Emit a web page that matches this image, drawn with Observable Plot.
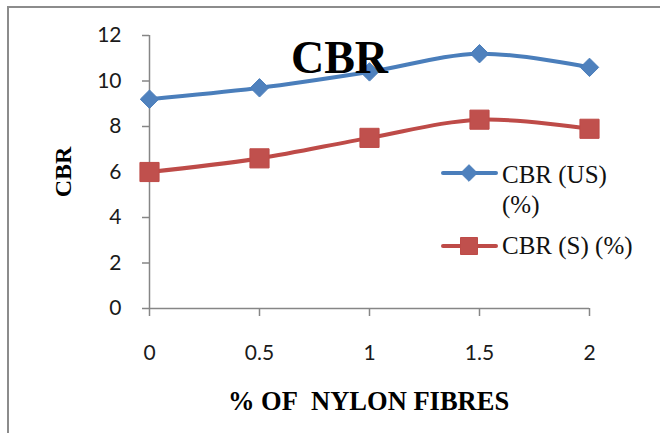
<!DOCTYPE html>
<html>
<head>
<meta charset="utf-8">
<script src="https://cdn.jsdelivr.net/npm/d3@7"></script>
<script src="https://cdn.jsdelivr.net/npm/@observablehq/plot@0.6"></script>
<style>
  body { margin: 0; background: #fff; }
  #chart { position: relative; width: 660px; height: 433px; overflow: hidden; background: #fff; }
  #chart svg.main { position: absolute; left: 0; top: 0; }
  #border { position: absolute; left: 7px; top: 6px; width: 720px; height: 520px; z-index: 2;
            border: 2px solid #8c8c8c; box-sizing: border-box; pointer-events: none; }
  #chart svg.legend-key { position: absolute; left: 440px; }
  #chart div.legend-text { position: absolute; left: 502px; font-size: 25px; line-height: 30px;
                           color: #111; white-space: nowrap; }
</style>
</head>
<body>
<div id="chart"><div id="border"></div></div>
<script>
// % of nylon fibres added to the soil
const fibre = [0, 0.5, 1, 1.5, 2];
// CBR values, unsoaked and soaked
const cbrUnsoaked = [9.2, 9.7, 10.4, 11.2, 10.6];
const cbrSoaked = [6.0, 6.6, 7.5, 8.3, 7.9];

const xTicks = [0, 0.5, 1, 1.5, 2];
const yTicks = [0, 2, 4, 6, 8, 10, 12];

const seriesNames = ["CBR (US)", "CBR (S)"];
const seriesLine = ["#4A7EBB", "#BE4B48"];
const seriesFill = ["#4F81BD", "#C0504D"];

const titleText = "CBR";
const yLabel = "CBR";
const xLabel = "% OF\u00a0 NYLON FIBRES";

const unsoaked = fibre.map((x, i) => ({x, y: cbrUnsoaked[i]}));
const soaked = fibre.map((x, i) => ({x, y: cbrSoaked[i]}));

const serif = "'Liberation Serif', 'Times New Roman', Times, serif";
const sans = "Lato, 'Liberation Sans', Arial, sans-serif";

const plot = Plot.plot({
  width: 660,
  height: 433,
  marginLeft: 149,
  marginRight: 71,
  marginTop: 35,
  marginBottom: 125,
  className: "main",
  style: {background: "transparent", fontFamily: sans, fontSize: "21px", color: "#1a1a1a"},
  x: {domain: [0, 2]},
  y: {domain: [0, 12]},
  marks: [
    Plot.ruleX([0], {stroke: "#868686", strokeWidth: 1.5}),
    Plot.ruleY([0], {stroke: "#868686", strokeWidth: 1.5}),
    Plot.axisY({ticks: yTicks, tickSize: 7, tickPadding: 21, stroke: "#868686", strokeWidth: 1.5,
                fill: "#1a1a1a", fontSize: 21, label: null}),
    Plot.axisX({ticks: xTicks, tickSize: 8, tickPadding: 29, stroke: "#868686", strokeWidth: 1.5,
                fill: "#1a1a1a", fontSize: 21, tickFormat: d => String(d), label: null}),
    Plot.line(unsoaked, {x: "x", y: "y", stroke: seriesLine[0], strokeWidth: 4, curve: "catmull-rom"}),
    Plot.line(soaked, {x: "x", y: "y", stroke: seriesLine[1], strokeWidth: 4, curve: "catmull-rom"}),
    Plot.dot(unsoaked, {x: "x", y: "y", symbol: "diamond2", r: 8.3, fill: seriesFill[0], stroke: seriesLine[0], strokeWidth: 1}),
    Plot.dot(soaked, {x: "x", y: "y", symbol: "square", r: 10.8, fill: seriesFill[1], stroke: seriesLine[1], strokeWidth: 1}),
    Plot.text([titleText], {text: d => d, frameAnchor: "top", lineAnchor: "top", textAnchor: "middle", dx: -30, dy: 5,
                            fontFamily: serif, fontSize: 46, fontWeight: "bold", fill: "#000"}),
    Plot.text([yLabel], {text: d => d, frameAnchor: "left", lineAnchor: "middle", textAnchor: "middle", rotate: -90, dx: -86,
                         fontFamily: serif, fontSize: 24, fontWeight: "bold", fill: "#000"}),
    Plot.text([xLabel], {text: d => d, frameAnchor: "bottom", lineAnchor: "middle", textAnchor: "middle", dx: -1, dy: 93.5,
                         fontFamily: serif, fontSize: 26.5, fontWeight: "bold", fill: "#000"})
  ]
});

const chart = document.getElementById("chart");
chart.appendChild(plot);

// legend: a line with its marker, then the series name
const legendRows = [
  {name: seriesNames[0], sub: "(%)", keyY: 173, textTop: 160, symbol: d3.symbolDiamond2, size: Math.PI * 7.5 * 7.5},
  {name: seriesNames[1] + " (%)", sub: null, keyY: 246, textTop: 231, symbol: d3.symbolSquare, size: 17 * 17}
];
legendRows.forEach((row, i) => {
  const key = d3.select(chart).append("svg")
    .attr("class", "legend-key")
    .style("top", (row.keyY - 12) + "px")
    .attr("width", 60).attr("height", 24);
  key.append("line")
    .attr("x1", 3).attr("x2", 56).attr("y1", 12).attr("y2", 12)
    .attr("stroke", seriesLine[i]).attr("stroke-width", 4).attr("stroke-linecap", "round");
  key.append("path")
    .attr("transform", "translate(29,12)")
    .attr("d", d3.symbol(row.symbol, row.size)())
    .attr("fill", seriesFill[i]).attr("stroke", seriesLine[i]);
  const text = d3.select(chart).append("div")
    .attr("class", "legend-text")
    .style("font-family", serif)
    .style("top", row.textTop + "px");
  text.append("div").text(row.name);
  if (row.sub) text.append("div").text(row.sub);
});
</script>
</body>
</html>
